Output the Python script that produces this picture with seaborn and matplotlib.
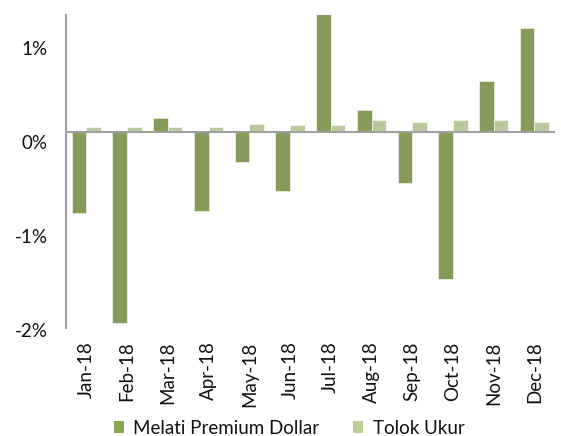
import pandas as pd
import seaborn as sns
import matplotlib.pyplot as plt
from matplotlib.patches import Patch
from matplotlib.transforms import ScaledTranslation

# monthly returns (%)
months = ["Jan-18", "Feb-18", "Mar-18", "Apr-18", "May-18", "Jun-18",
          "Jul-18", "Aug-18", "Sep-18", "Oct-18", "Nov-18", "Dec-18"]
melati = [-0.86, -2.03, 0.15, -0.84, -0.32, -0.63,
          1.25, 0.23, -0.55, -1.57, 0.54, 1.10]
tolok = [0.05, 0.05, 0.05, 0.05, 0.08, 0.075,
         0.07, 0.12, 0.10, 0.12, 0.12, 0.10]
series_names = ["Melati Premium Dollar", "Tolok Ukur"]
colors = ["#8aa64e", "#bcd096"]

df = pd.DataFrame({
    "month": months * 2,
    "value": melati + tolok,
    "series": [series_names[0]] * len(months) + [series_names[1]] * len(months),
})

sns.set_style("white")
plt.rcParams["font.family"] = ["Lato", "DejaVu Sans"]

fig = plt.figure(figsize=(5.61, 4.36), dpi=100)
ax = fig.add_axes([0.1176, 0.2484, 0.8714, 0.7172])

sns.barplot(data=df, x="month", y="value", hue="series", palette=colors,
            width=0.72, gap=0, dodge=True, ax=ax, legend=False,
            edgecolor="white", linewidth=0.4)

ax.set_xlim(-0.5, 11.5)
ax.set_ylim(-2.085, 1.241)
ax.set_yticks([1, 0, -1, -2])
ax.set_yticklabels(["1%", "0%", "-1%", "-2%"])
ax.set_xlabel("")
ax.set_ylabel("")

ax.axhline(0, color="#a0a0a0", lw=1.5, zorder=5)
for s in ["top", "right", "bottom"]:
    ax.spines[s].set_visible(False)
ax.spines["left"].set_color("#a0a0a0")
ax.spines["left"].set_linewidth(1.5)

fs = 13.5
ax.tick_params(axis="y", length=0, pad=13, labelsize=fs, labelcolor="#111111")
ax.tick_params(axis="x", length=0, pad=10, labelsize=fs, labelcolor="#111111")
plt.setp(ax.get_xticklabels(), rotation=90)

# the y labels sit a little below their gridline positions in the original
shift = ScaledTranslation(0, -0.1, fig.dpi_scale_trans)
for lab in ax.get_yticklabels():
    lab.set_transform(lab.get_transform() + shift)

handles = [Patch(facecolor=c, edgecolor="none") for c in colors]
fig.legend(handles, series_names, loc="center", bbox_to_anchor=(289 / 561, 0.018),
           ncol=2, frameon=False, fontsize=fs, handlelength=0.55, handleheight=0.55,
           handletextpad=0.5, columnspacing=1.8, labelcolor="#111111")

fig.savefig("out.png", dpi=100)
